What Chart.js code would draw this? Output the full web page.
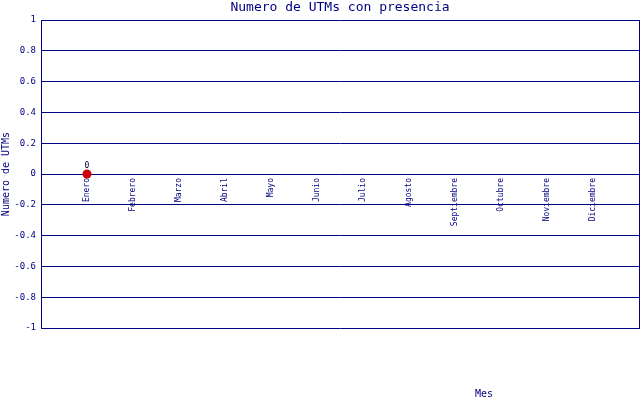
<!DOCTYPE html>
<html>
<head>
<meta charset="utf-8">
<script src="https://cdn.jsdelivr.net/npm/chart.js@4.4.1/dist/chart.umd.min.js"></script>
<style>
  html, body { margin: 0; padding: 0; background: #fff; }
  #wrap { width: 640px; height: 400px; }
</style>
</head>
<body>
<div id="wrap"><canvas id="myChart"></canvas></div>
<script>
const months = ['Enero', 'Febrero', 'Marzo', 'Abril', 'Mayo', 'Junio', 'Julio',
  'Agosto', 'Septiembre', 'Octubre', 'Noviembre', 'Diciembre'];
const utms = [0, null, null, null, null, null, null, null, null, null, null, null];
const yTicks = [-1, -0.8, -0.6, -0.4, -0.2, 0, 0.2, 0.4, 0.6, 0.8, 1];

const NAVY = '#000080';
const MONO = '"DejaVu Sans Mono", monospace';

//TEXT PLUGIN (title, x title, point labels)
const textPlugin = {
  id: 'texts',
  afterDraw(chart) {
    const ctx = chart.ctx;
    const area = chart.chartArea;
    ctx.save();
    ctx.fillStyle = NAVY;
    ctx.textAlign = 'center';
    ctx.textBaseline = 'middle';
    ctx.font = '13px ' + MONO;
    ctx.fillText('Numero de UTMs con presencia', (area.left + area.right) / 2, 8);
    ctx.font = '10px ' + MONO;
    ctx.fillText('Mes', 484, 394);

    // value labels above points
    ctx.fillStyle = '#000040';
    ctx.font = '8px ' + MONO;
    ctx.textBaseline = 'bottom';
    const meta = chart.getDatasetMeta(0);
    meta.data.forEach((pt, i) => {
      if (utms[i] === null || pt.skip) return;
      ctx.fillText(String(utms[i]), pt.x, pt.y - 4);
    });
    ctx.restore();
  }
};

const ctx = document.getElementById('myChart');

new Chart(ctx, {
  type: 'line',
  data: {
    datasets: [{
      label: 'UTMs',
      data: utms.map((v, i) => ({ x: i + 1, y: v })),
      showLine: false,
      pointRadius: 4.5,
      pointBackgroundColor: '#cc0000',
      pointBorderColor: '#cc0000',
      pointBorderWidth: 0
    }]
  },
  options: {
    responsive: true,
    maintainAspectRatio: false,
    animation: false,
    layout: {
      autoPadding: false,
      padding: { top: 20, right: 0, bottom: 72, left: 0 }
    },
    plugins: {
      legend: { display: false },
      tooltip: { enabled: false }
    },
    scales: {
      x: {
        type: 'linear',
        min: 0,
        max: 13,
        position: { y: 0 },
        afterBuildTicks: (scale) => {
          scale.ticks = months.map((m, i) => ({ value: i + 1 }));
        },
        afterFit: (scale) => {
          scale.paddingLeft = 0;
          scale.paddingRight = 0;
        },
        ticks: {
          autoSkip: false,
          minRotation: 90,
          maxRotation: 90,
          padding: 4,
          color: NAVY,
          font: { family: MONO, size: 8 },
          callback: (v) => months[v - 1] || ''
        },
        grid: { display: true, drawOnChartArea: false, drawTicks: false },
        border: { display: false }
      },
      y: {
        min: -1,
        max: 1,
        afterBuildTicks: (scale) => {
          scale.ticks = yTicks.map(v => ({ value: v }));
        },
        afterFit: (scale) => { scale.width = 41; },
        ticks: {
          padding: 5,
          color: NAVY,
          font: { family: MONO, size: 9 },
          callback: (v) => String(Math.round(v * 10) / 10)
        },
        grid: { color: NAVY, lineWidth: 1, drawTicks: false },
        border: { color: NAVY, width: 1 },
        title: {
          display: true,
          text: 'Numero de UTMs',
          color: NAVY,
          padding: 0,
          font: { family: MONO, size: 10 }
        }
      },
      yRight: {
        position: 'right',
        min: -1,
        max: 1,
        afterFit: (scale) => { scale.width = 1; },
        ticks: { display: false },
        grid: { drawOnChartArea: false, drawTicks: false },
        border: { color: NAVY, width: 1 }
      }
    }
  },
  plugins: [textPlugin]
});
</script>
</body>
</html>
